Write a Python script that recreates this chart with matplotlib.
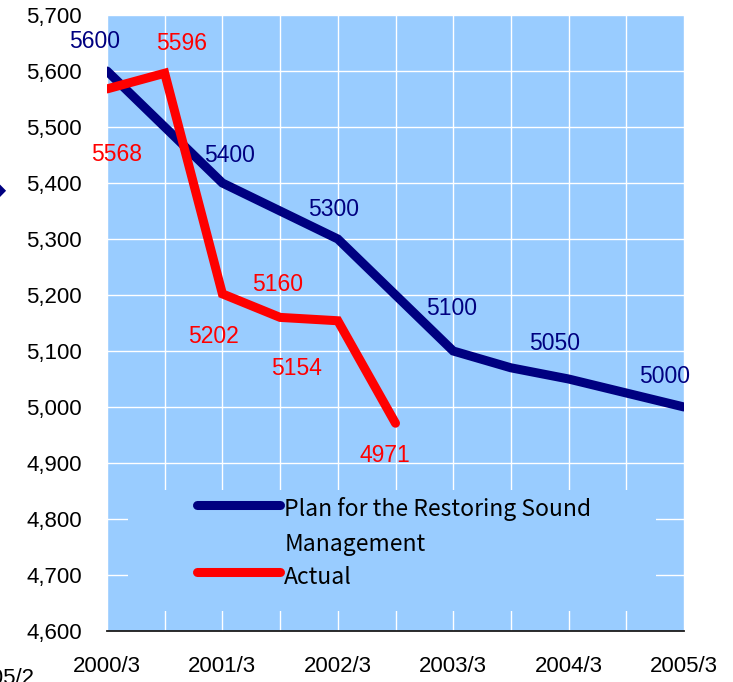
import matplotlib
matplotlib.use("Agg")
import matplotlib.pyplot as plt
from matplotlib.patches import Rectangle
from matplotlib.lines import Line2D

# half-year steps from 2000/3 to 2005/3
periods = ["2000/3", "2000/9", "2001/3", "2001/9", "2002/3", "2002/9",
           "2003/3", "2003/9", "2004/3", "2004/9", "2005/3"]
plan = [5600, 5500, 5400, 5350, 5300, 5200, 5100, 5070, 5050, 5025, 5000]
actual = [5568, 5596, 5202, 5160, 5154, 4971]

# which points carry a value label, and where it sits (pixels from the point)
plan_labels = {0: (-12, 29), 2: (7, 27), 4: (-4, 29), 6: (-2, 42), 8: (-14, 35), 10: (-19, 30)}
actual_labels = {0: (10, -66), 1: (17, 30), 2: (-9, -43), 3: (-3, 33), 4: (-41, -48), 5: (-11, -32)}

yticks = [4600, 4700, 4800, 4900, 5000, 5100, 5200, 5300, 5400, 5500, 5600, 5700]

NAVY = "#000080"
RED = "#FF0000"
BG = "#99CCFF"
num_font = "Liberation Sans"

fig = plt.figure(figsize=(7.33, 6.82), dpi=100)
ax = fig.add_axes([107/733, 1 - 631/682, 577/733, 616/682])
ax.set_facecolor(BG)

x = list(range(len(periods)))
ax.plot(x, plan, color=NAVY, lw=6.5, solid_capstyle="round", solid_joinstyle="miter", zorder=3)
ax.plot(x[:len(actual)], actual, color=RED, lw=6.5, solid_capstyle="round", solid_joinstyle="miter", zorder=4)

for i, (dx, dy) in plan_labels.items():
    ax.annotate(str(plan[i]), (x[i], plan[i]), xytext=(dx, dy), textcoords="offset pixels",
                ha="center", va="center", color=NAVY, fontsize=16.5, family=num_font,
                annotation_clip=False)
for i, (dx, dy) in actual_labels.items():
    ax.annotate(str(actual[i]), (x[i], actual[i]), xytext=(dx, dy), textcoords="offset pixels",
                ha="center", va="center", color=RED, fontsize=16.5, family=num_font,
                annotation_clip=False)

ax.set_xlim(0, len(periods) - 1)
ax.set_ylim(4600, 5700)
ax.set_xticks(x)
ax.set_xticklabels([p if i % 2 == 0 else "" for i, p in enumerate(periods)])
ax.set_yticks(yticks)
ax.set_yticklabels([f"{v:,}" for v in yticks])
ax.tick_params(axis="both", length=0, labelsize=16)
ax.tick_params(axis="x", pad=18)
ax.tick_params(axis="y", pad=18)
for lab in ax.get_xticklabels() + ax.get_yticklabels():
    lab.set_family(num_font)

ax.set_axisbelow(True)
ax.grid(True, color="white", lw=1.0)
for s in ["left", "right", "top"]:
    ax.spines[s].set_visible(False)
ax.spines["bottom"].set_color("#1a1a1a")
ax.spines["bottom"].set_linewidth(1.3)

# legend block: a plain patch hiding the grid, with keys and text on top
ax.add_patch(Rectangle((0.036, 0.032), 0.915, 0.197, transform=ax.transAxes,
                       facecolor=BG, edgecolor="none", zorder=1))
leg_font = ["Noto Sans CJK JP", "DejaVu Sans"]
ax.add_line(Line2D([0.156, 0.300], [0.205, 0.205], transform=ax.transAxes, color=NAVY,
                   lw=6.5, solid_capstyle="round", zorder=5))
ax.add_line(Line2D([0.156, 0.300], [0.096, 0.096], transform=ax.transAxes, color=RED,
                   lw=6.5, solid_capstyle="round", zorder=5))
ax.text(0.307, 0.1867, "Plan for the Restoring Sound", transform=ax.transAxes,
        ha="left", va="baseline", fontsize=16.5, family=leg_font, zorder=5)
ax.text(0.307, 0.130, "Management", transform=ax.transAxes,
        ha="left", va="baseline", fontsize=16.5, family=leg_font, zorder=5)
ax.text(0.307, 0.0763, "Actual", transform=ax.transAxes,
        ha="left", va="baseline", fontsize=16.5, family=leg_font, zorder=5)

# bits of the neighbouring chart at the left edge
fig.text(6/733, 1 - 190/682, "\u25c6", ha="right", va="center", fontsize=17, color=NAVY)
fig.text(35/733, 14/682, "2005/2", ha="right", va="top", fontsize=16, family=num_font)

fig.savefig("out.png", dpi=100, facecolor="white")
